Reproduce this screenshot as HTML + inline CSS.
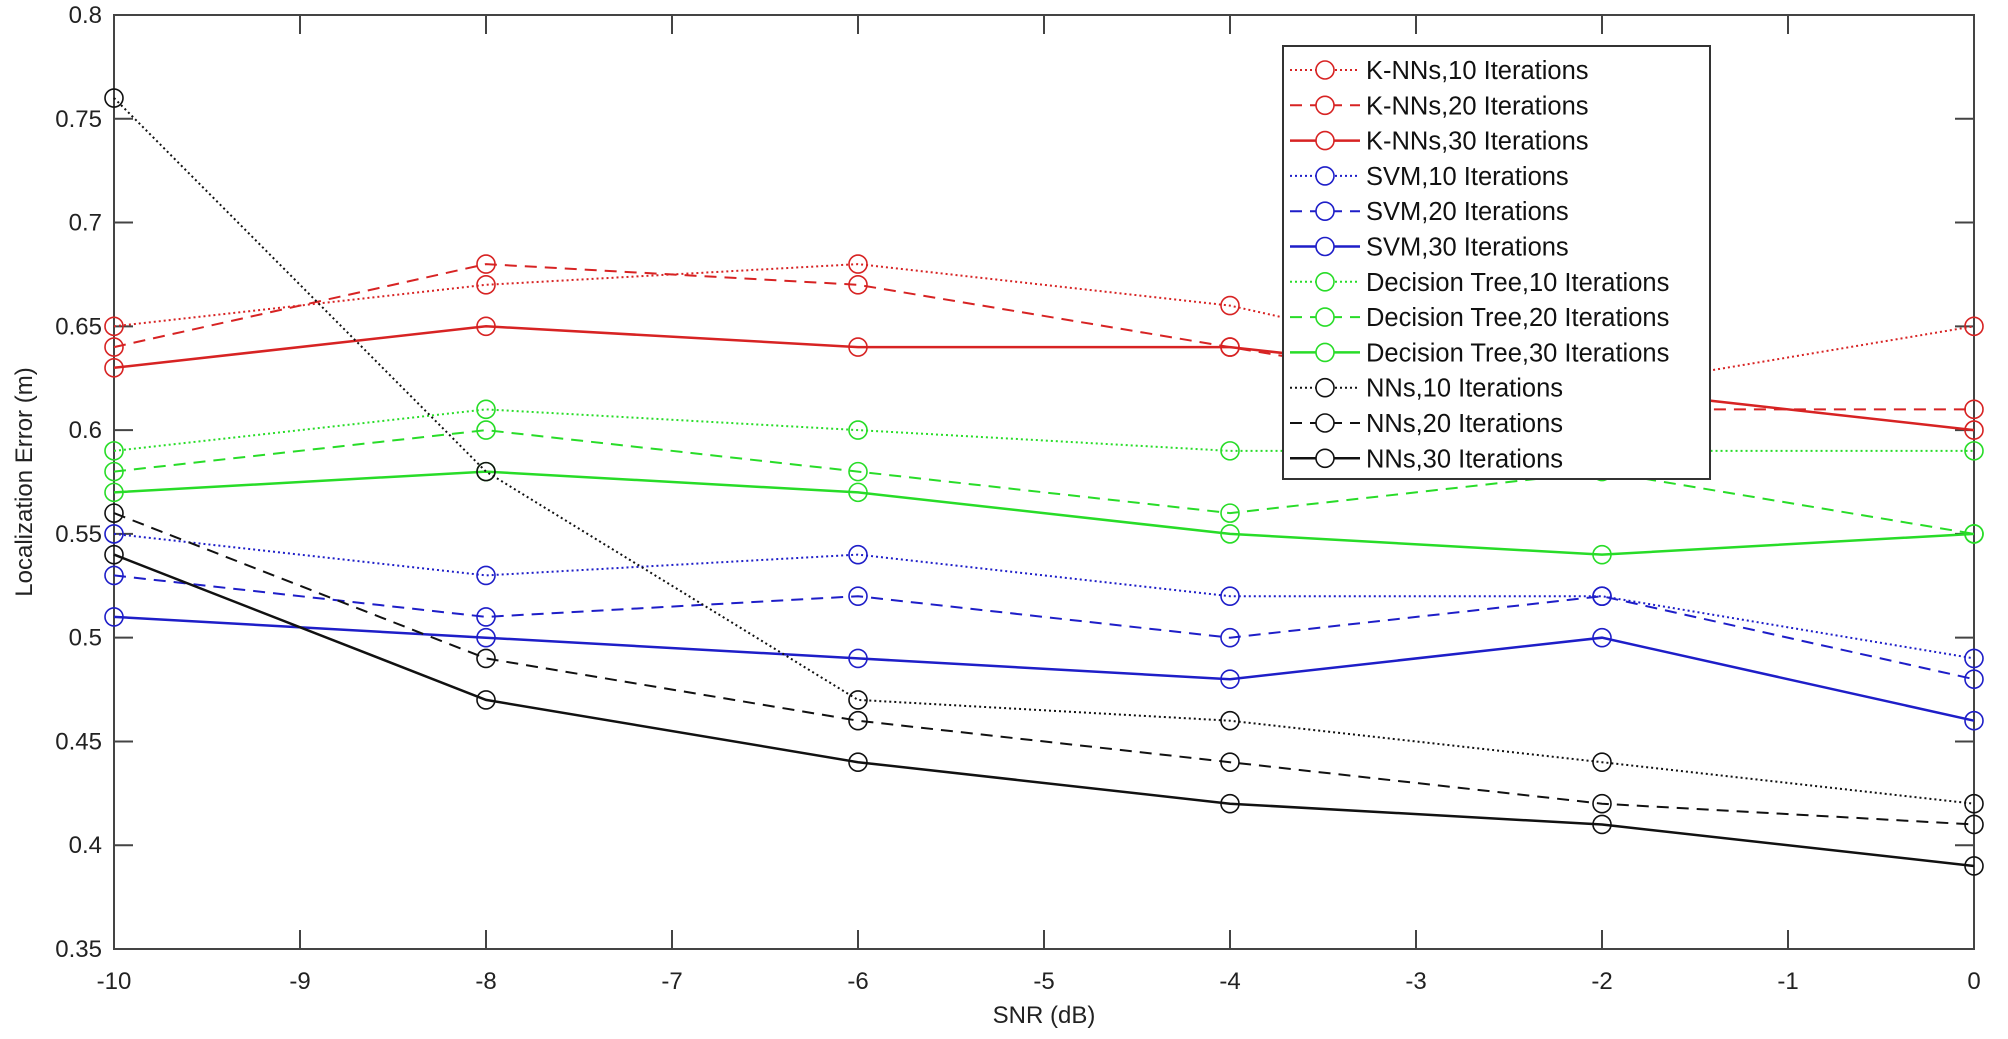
<!DOCTYPE html>
<html><head><meta charset="utf-8"><style>
html,body{margin:0;padding:0;background:#fff;}
svg{display:block;font-family:"Liberation Sans",Arial,sans-serif;}
</style></head><body>
<svg id="c" width="2008" height="1039" xmlns="http://www.w3.org/2000/svg"></svg>
<script>
const L=114,R=1974,T=15,B=949;
const X=v=>L+(v+10)/10*(R-L);
const Y=v=>B-(v-0.35)/0.45*(B-T);
const red="rgb(215,35,35)",blue="rgb(30,30,200)",green="rgb(40,220,40)",blk="#111";
const xs=[-10,-8,-6,-4,-2,0];
const series=[
["K-NNs,10 Iterations",red,"dot",[.65,.67,.68,.66,.62,.65]],
["K-NNs,20 Iterations",red,"dash",[.64,.68,.67,.64,.61,.61]],
["K-NNs,30 Iterations",red,"solid",[.63,.65,.64,.64,.62,.60]],
["SVM,10 Iterations",blue,"dot",[.55,.53,.54,.52,.52,.49]],
["SVM,20 Iterations",blue,"dash",[.53,.51,.52,.50,.52,.48]],
["SVM,30 Iterations",blue,"solid",[.51,.50,.49,.48,.50,.46]],
["Decision Tree,10 Iterations",green,"dot",[.59,.61,.60,.59,.59,.59]],
["Decision Tree,20 Iterations",green,"dash",[.58,.60,.58,.56,.58,.55]],
["Decision Tree,30 Iterations",green,"solid",[.57,.58,.57,.55,.54,.55]],
["NNs,10 Iterations",blk,"dot",[.76,.58,.47,.46,.44,.42]],
["NNs,20 Iterations",blk,"dash",[.56,.49,.46,.44,.42,.41]],
["NNs,30 Iterations",blk,"solid",[.54,.47,.44,.42,.41,.39]]];
const da={dot:'2,3',dash:'12,8',solid:'none'};
let s='';
s+=`<rect x="${L}" y="${T}" width="${R-L}" height="${B-T}" fill="#fff" stroke="#444" stroke-width="2"/>`;
for(let v=-10;v<=0;v++){const x=X(v);
 s+=`<line x1="${x}" y1="${B}" x2="${x}" y2="${B-19}" stroke="#444" stroke-width="2"/><line x1="${x}" y1="${T}" x2="${x}" y2="${T+19}" stroke="#444" stroke-width="2"/>`;
 s+=`<text x="${x}" y="${B+40}" font-size="24" text-anchor="middle" fill="#222">${v}</text>`;}
for(let i=0;i<=9;i++){const v=0.35+i*0.05,y=Y(v);
 s+=`<line x1="${L}" y1="${y}" x2="${L+19}" y2="${y}" stroke="#444" stroke-width="2"/><line x1="${R}" y1="${y}" x2="${R-19}" y2="${y}" stroke="#444" stroke-width="2"/>`;
 let t=(+v.toFixed(2)).toString();
 s+=`<text x="${L-12}" y="${y+8}" font-size="24" text-anchor="end" fill="#222">${t}</text>`;}
s+=`<text x="${(L+R)/2}" y="1023" font-size="24" text-anchor="middle" fill="#222">SNR (dB)</text>`;
s+=`<text transform="translate(32,${(T+B)/2}) rotate(-90)" font-size="24" text-anchor="middle" fill="#222">Localization Error (m)</text>`;
for(const [n,c,st,d] of series){
 const p=xs.map((x,i)=>X(x).toFixed(1)+','+Y(d[i]).toFixed(1)).join(' ');
 s+=`<polyline points="${p}" fill="none" stroke="${c}" stroke-width="${st=='solid'?2.5:2}" stroke-dasharray="${da[st]}"/>`;
 xs.forEach((x,i)=>{s+=`<circle cx="${X(x)}" cy="${Y(d[i])}" r="9" fill="none" stroke="${c}" stroke-width="1.6"/>`;});
}
s+=`<rect x="1283" y="46" width="427" height="433" fill="#fff" stroke="#333" stroke-width="2"/>`;
series.forEach(([n,c,st],i)=>{const y=70+i*35.3;
 s+=`<line x1="1290" y1="${y}" x2="1360" y2="${y}" stroke="${c}" stroke-width="${st=='solid'?2.5:2}" stroke-dasharray="${da[st]}"/>`;
 s+=`<circle cx="1325" cy="${y}" r="9" fill="#fff" stroke="${c}" stroke-width="1.6"/>`;
 s+=`<text x="1366" y="${y+9}" font-size="25.5" fill="#111">${n}</text>`;});
document.getElementById('c').innerHTML=s;
</script>
</body></html>
